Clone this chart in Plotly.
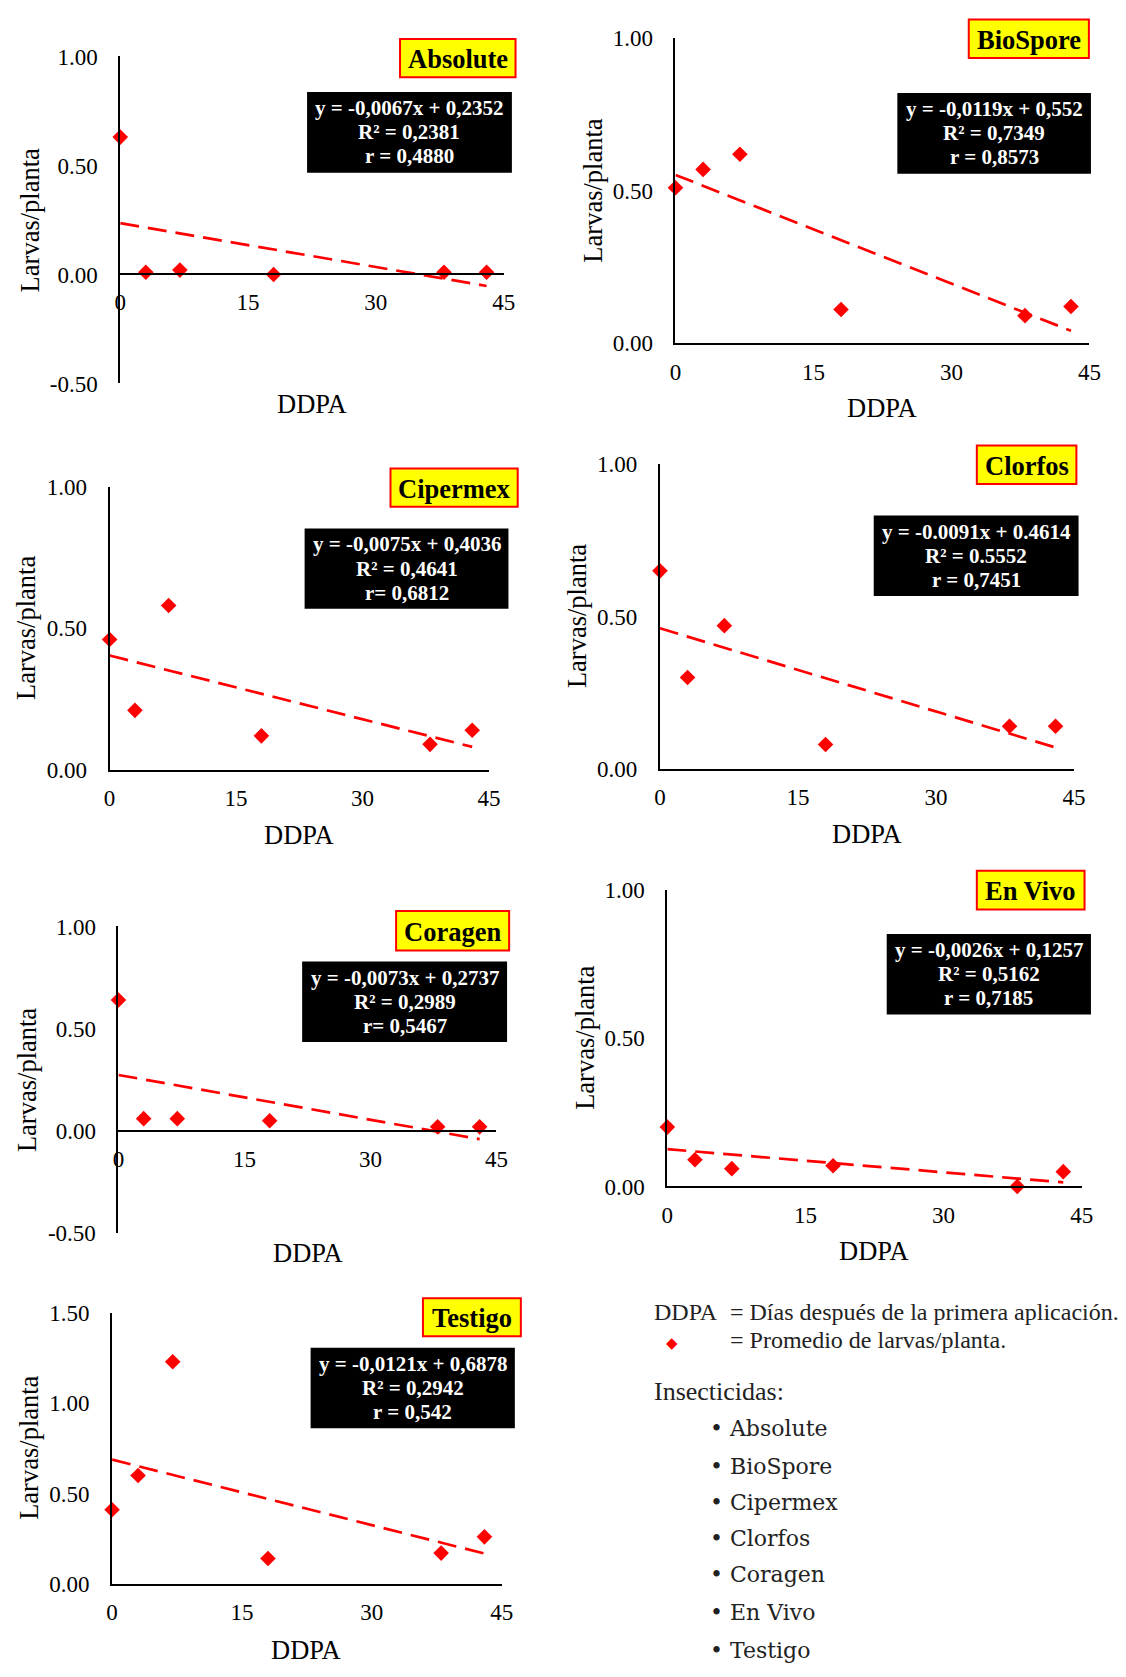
import plotly.graph_objects as go

# The page body keeps the browser's default 8px margin, so the figure is
# sized to fill the 1126x1677 window exactly and every reference pixel
# coordinate below is shifted by that margin.
PAGE_W, PAGE_H = 1126, 1677
OFF = 8
W, H = PAGE_W - 2 * OFF, PAGE_H - 2 * OFF

# ---------------- data ----------------
days = [0, 3, 7, 18, 38, 43]
absolute = [0.63, 0.01, 0.02, 0.00, 0.01, 0.01]
biospore = [0.51, 0.57, 0.62, 0.11, 0.09, 0.12]
cipermex = [0.46, 0.21, 0.58, 0.12, 0.09, 0.14]
clorfos = [0.65, 0.30, 0.47, 0.08, 0.14, 0.14]
coragen = [0.64, 0.06, 0.06, 0.05, 0.02, 0.02]
envivo = [0.20, 0.09, 0.06, 0.07, 0.00, 0.05]
testigo = [0.41, 0.60, 1.23, 0.14, 0.17, 0.26]

names = ["Absolute", "BioSpore", "Cipermex", "Clorfos", "Coragen", "En Vivo", "Testigo"]
series = [absolute, biospore, cipermex, clorfos, coragen, envivo, testigo]
slopes = [-0.0067, -0.0119, -0.0075, -0.0091, -0.0073, -0.0026, -0.0121]
intercepts = [0.2352, 0.552, 0.4036, 0.4614, 0.2737, 0.1257, 0.6878]
eq_text = [
    ["y = -0,0067x + 0,2352", "R² = 0,2381", "r = 0,4880"],
    ["y = -0,0119x + 0,552", "R² = 0,7349", "r = 0,8573"],
    ["y = -0,0075x + 0,4036", "R² = 0,4641", "r= 0,6812"],
    ["y = -0.0091x + 0.4614", "R² = 0.5552", "r = 0,7451"],
    ["y = -0,0073x + 0,2737", "R² = 0,2989", "r= 0,5467"],
    ["y = -0,0026x + 0,1257", "R² = 0,5162", "r = 0,7185"],
    ["y = -0,0121x + 0,6878", "R² = 0,2942", "r = 0,542"],
]
y_ranges = [(-0.5, 1.0), (0, 1.0), (0, 1.0), (0, 1.0), (-0.5, 1.0), (0, 1.0), (0, 1.5)]
x_ticks = [0, 15, 30, 45]
x_title = "DDPA"
y_title = "Larvas/planta"
legend_lines = ["Días después de la primera aplicación.", "Promedio de larvas/planta."]
insecticidas = ["Absolute", "BioSpore", "Cipermex", "Clorfos", "Coragen", "En Vivo", "Testigo"]

# ---------------- layout geometry (reference page pixels) ----------------
panels = [
    dict(xl=116.0, xr=505.7, yt=45.0, yb=377.0,
         lab=(400.4, 517.8, 27.3, 66.0), eq=(305.9, 514.1, 81.0, 163.0),
         ytc=(23.7, 211.0), xtc=(311.3, 398.0)),
    dict(xl=680.4, xr=1101.1, yt=26.7, yb=336.0,
         lab=(978.5, 1100.6, 7.5, 46.7), eq=(905.9, 1102.7, 82.0, 164.0),
         ytc=(597.1, 181.7), xtc=(890.5, 401.7)),
    dict(xl=105.2, xr=490.9, yt=481.7, yb=769.3,
         lab=(390.7, 520.0, 463.3, 502.3), eq=(303.4, 510.6, 524.3, 605.7),
         ytc=(19.7, 625.8), xtc=(298.1, 835.0)),
    dict(xl=664.6, xr=1085.4, yt=459.0, yb=768.3,
         lab=(986.7, 1087.9, 440.0, 479.0), eq=(881.9, 1090.1, 511.0, 592.7),
         ytc=(580.2, 613.3), xtc=(874.6, 834.0)),
    dict(xl=114.2, xr=498.4, yt=928.3, yb=1239.7,
         lab=(396.4, 511.3, 912.7, 952.7), eq=(300.9, 509.2, 964.0, 1045.7),
         ytc=(21.5, 1084.0), xtc=(307.0, 1260.0)),
    dict(xl=672.1, xr=1093.3, yt=891.0, yb=1192.3,
         lab=(986.7, 1096.2, 871.7, 911.0), eq=(895.1, 1102.7, 936.0, 1017.7),
         ytc=(588.1, 1041.7), xtc=(882.6, 1258.3)),
    dict(xl=107.7, xr=503.8, yt=1320.7, yb=1595.7,
         lab=(423.7, 523.2, 1305.7, 1344.3), eq=(309.5, 517.1, 1356.0, 1437.7),
         ytc=(23.4, 1457.5), xtc=(305.2, 1663.3)),
]

SERIF = "Liberation Serif, Times New Roman, serif"


def px(x):
    return (x - OFF) / W


def py(y):
    return 1 - (y - OFF) / H


fig = go.Figure()
layout = dict(
    width=W, height=H, margin=dict(l=0, r=0, t=0, b=0),
    paper_bgcolor="white", plot_bgcolor="white", showlegend=False,
    font=dict(family=SERIF, size=23, color="black"),
)
shapes = []
annotations = []


def add_text(x, y, text, size, color="black", family=SERIF, xanchor="center", angle=0):
    annotations.append(dict(x=px(x), y=py(y), xref="paper", yref="paper", text=text,
                            showarrow=False, xanchor=xanchor, yanchor="middle",
                            textangle=angle, font=dict(family=family, size=size, color=color)))


for i, p in enumerate(panels):
    n = "" if i == 0 else str(i + 1)
    xa, ya = "x" + n, "y" + n
    ymin, ymax = y_ranges[i]

    tx = [days[0], days[-1]]
    ty = [slopes[i] * v + intercepts[i] for v in tx]
    fig.add_trace(go.Scatter(
        x=tx, y=ty, mode="lines", xaxis=xa, yaxis=ya,
        line=dict(color="#FF0000", width=2.7, dash="19px,9px"),
        cliponaxis=False, hoverinfo="skip"))
    fig.add_trace(go.Scatter(
        x=days, y=series[i], mode="markers", xaxis=xa, yaxis=ya,
        marker=dict(symbol="diamond", size=12, color="#FF0000"),
        cliponaxis=False, hoverinfo="x+y"))

    xdict = dict(domain=[px(p["xl"]), px(p["xr"])], range=[0, 45],
                 tickvals=x_ticks, showline=True, linecolor="black", linewidth=2,
                 showgrid=False, zeroline=False, ticks="", ticklabelstandoff=7,
                 tickfont=dict(family=SERIF, size=23, color="black"), fixedrange=True)
    if ymin < 0:
        zero_px = p["yt"] + (ymax - 0) / (ymax - ymin) * (p["yb"] - p["yt"])
        xdict.update(anchor="free", position=py(zero_px))
    else:
        xdict.update(anchor=ya)
    ticks_y = []
    v = ymin
    while v <= ymax + 1e-9:
        ticks_y.append(round(v, 2))
        v += 0.5
    ydict = dict(domain=[py(p["yb"]), py(p["yt"])], range=[ymin, ymax], anchor=xa,
                 tickvals=ticks_y, ticktext=["%.2f" % t for t in ticks_y],
                 showline=True, linecolor="black", linewidth=2,
                 showgrid=False, zeroline=False, ticks="", ticklabelstandoff=16,
                 tickfont=dict(family=SERIF, size=23, color="black"), fixedrange=True)
    layout["xaxis" + n] = xdict
    layout["yaxis" + n] = ydict

    add_text(p["xtc"][0], p["xtc"][1], x_title, 26.5)
    add_text(p["ytc"][0], p["ytc"][1], y_title, 26.5, angle=-90)

    x0, x1, y0, y1 = p["lab"]
    shapes.append(dict(type="rect", xref="paper", yref="paper",
                       x0=px(x0), x1=px(x1), y0=py(y1), y1=py(y0),
                       fillcolor="#FFFF00", line=dict(color="#FF0000", width=2), layer="above"))
    add_text((x0 + x1) / 2, (y0 + y1) / 2 + 1, "<b>%s</b>" % names[i], 26.5)

    x0, x1, y0, y1 = p["eq"]
    shapes.append(dict(type="rect", xref="paper", yref="paper",
                       x0=px(x0), x1=px(x1), y0=py(y1), y1=py(y0),
                       fillcolor="black", line=dict(color="black", width=0), layer="above"))
    cy = (y0 + y1) / 2
    for k, t in enumerate(eq_text[i]):
        add_text((x0 + x1) / 2, cy + (k - 1) * 24.5, "<b>%s</b>" % t, 21, color="white")

# ---------------- explanatory legend (bottom right) ----------------
LEG = "Liberation Serif, serif"
add_text(656.7, 1320, x_title, 24, "#222222", LEG, "left")
add_text(733.3, 1320, "= " + legend_lines[0], 24, "#222222", LEG, "left")
add_text(676.7, 1351, "◆", 15, "#FF0000", "DejaVu Sans")
add_text(733.3, 1348, "= " + legend_lines[1], 24, "#222222", LEG, "left")
add_text(656.7, 1400, "Insecticidas:", 26, "#222222", LEG, "left")
bullet_y = [1438.3, 1476.7, 1513.3, 1550.0, 1586.7, 1625.0, 1663.3]
for name, by in zip(insecticidas, bullet_y):
    add_text(713, by, "• " + name, 22, "#222222", "DejaVu Serif", "left")

layout["shapes"] = shapes
layout["annotations"] = annotations
fig.update_layout(**layout)

fig.write_html("out.html", config={"displayModeBar": False})
